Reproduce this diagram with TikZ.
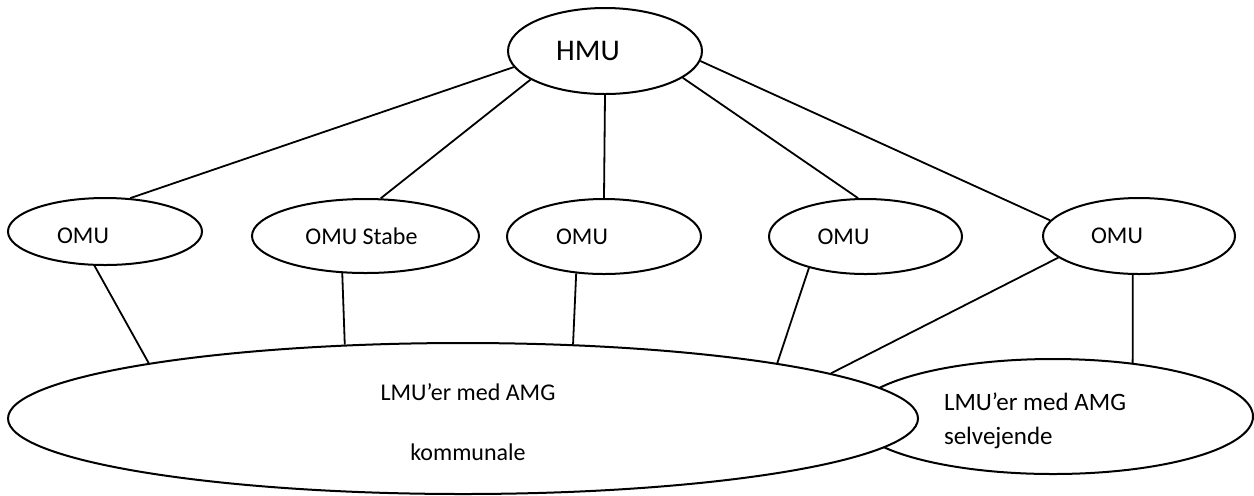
\documentclass[tikz,border=0pt]{standalone}
\usepackage{fontspec}
\setmainfont{Carlito}
\usetikzlibrary{shapes.geometric}

\tikzset{
  umu/.style={draw, ellipse, line width=1pt, fill=white, inner sep=0pt},
  lbl/.style={font=\fontsize{12}{14}\selectfont},
  link/.style={line width=0.9pt}
}

\begin{document}
\begin{tikzpicture}[x=0.5pt,y=-0.5pt]
            \useasboundingbox (0,0) rectangle (1254,495);
            \node[umu, minimum width=97pt, minimum height=43pt,
              label={[font=\fontsize{15}{17}\selectfont, xshift=-8.5pt]center:HMU}] (hmu) at (605,51) {};
            \node[umu, minimum width=97pt, minimum height=33.5pt,
              label={[lbl, xshift=-11pt, yshift=-2pt]center:OMU}] (omua) at (105,231.5) {};
            \node[umu, minimum width=113.5pt, minimum height=37pt,
              label={[lbl, xshift=-2pt]center:OMU Stabe}] (omub) at (365.5,236) {};
            \node[umu, minimum width=97pt, minimum height=37.5pt,
              label={[lbl, xshift=-11pt]center:OMU}] (omuc) at (604,236.5) {};
            \node[umu, minimum width=96.5pt, minimum height=37.5pt,
              label={[lbl, xshift=-11pt]center:OMU}] (omud) at (865.5,236.5) {};
            \node[umu, minimum width=96pt, minimum height=38pt,
              label={[lbl, xshift=-11pt]center:OMU}] (omue) at (1139,236) {};
            \node[umu, minimum width=200pt, minimum height=57.5pt,
              label={[font=\fontsize{12.5}{17}\selectfont, align=left, xshift=-9pt, yshift=-2pt]center:LMU’er med AMG\\selvejende}] (sel) at (1053,416.5) {};
            \node[umu, minimum width=455pt, minimum height=75.5pt,
              label={[lbl, align=center, xshift=2.5pt, yshift=-2pt]center:LMU’er med AMG\\[16pt]kommunale}] (kom) at (463,418.5) {};
            \foreach \a/\o/\b in {190/omua/53, 201/omub/68, 270/omuc/90, 341/omud/101, 354/omue/170}
            \draw[link] (hmu.\a) -- (\o.\b);
            \foreach \o/\a/\b in {omua/253/170.7, omub/238/148, omuc/233/34.5, omud/209.5/10.8, omue/195/7.4}
            \draw[link] (\o.\a) -- (kom.\b);
            \draw[link] (omue.261) -- (sel.34);
        \end{tikzpicture}
\end{document}
